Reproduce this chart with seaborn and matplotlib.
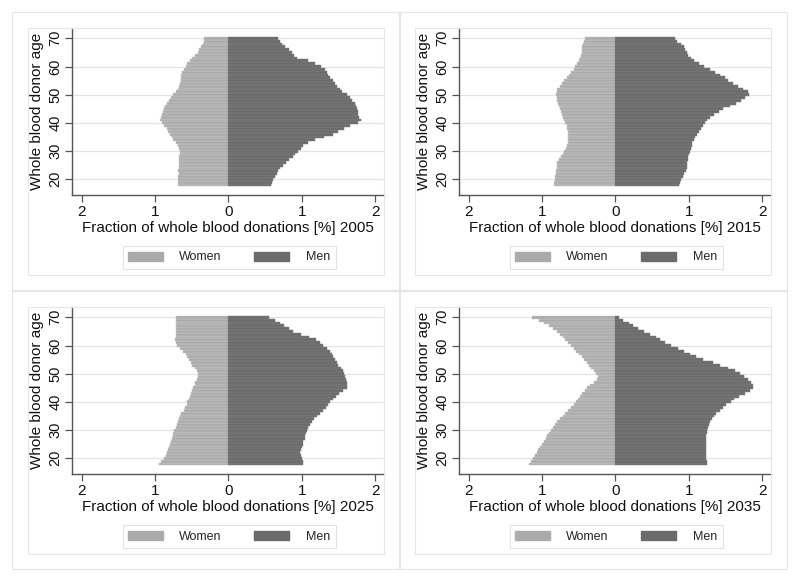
import numpy as np
import pandas as pd
import matplotlib
matplotlib.use("Agg")
import matplotlib.pyplot as plt
from matplotlib.patches import Rectangle, Patch
import seaborn as sns

# Donor ages shown on the y axis (one bar per age)
ages = list(range(18, 71))

years = ["2005", "2015", "2025", "2035"]

# Fraction of whole blood donations [%] by age (ages 18..70)
women_2005 = [0.68, 0.68, 0.68, 0.68, 0.67, 0.68, 0.67, 0.67, 0.67, 0.67, 0.67, 0.66, 0.66,
              0.67, 0.69, 0.72, 0.75, 0.77, 0.80, 0.82, 0.84, 0.87, 0.91, 0.93, 0.92, 0.91,
              0.89, 0.87, 0.86, 0.84, 0.81, 0.78, 0.75, 0.72, 0.69, 0.67, 0.66, 0.65, 0.65,
              0.64, 0.63, 0.61, 0.58, 0.56, 0.52, 0.49, 0.46, 0.42, 0.40, 0.37, 0.35, 0.33, 0.33]
men_2005 = [0.58, 0.59, 0.61, 0.64, 0.66, 0.68, 0.71, 0.75, 0.79, 0.83, 0.88, 0.91, 0.95,
            0.99, 1.02, 1.09, 1.18, 1.30, 1.42, 1.50, 1.58, 1.66, 1.76, 1.80, 1.78, 1.77,
            1.76, 1.75, 1.74, 1.72, 1.69, 1.66, 1.61, 1.55, 1.52, 1.48, 1.45, 1.43, 1.38,
            1.36, 1.35, 1.32, 1.26, 1.18, 1.08, 0.94, 0.90, 0.86, 0.82, 0.77, 0.73, 0.70, 0.68]

women_2015 = [0.83, 0.83, 0.82, 0.82, 0.81, 0.81, 0.80, 0.80, 0.79, 0.77, 0.74, 0.72, 0.70,
              0.67, 0.66, 0.65, 0.65, 0.65, 0.65, 0.65, 0.66, 0.66, 0.68, 0.70, 0.71, 0.73,
              0.74, 0.75, 0.77, 0.78, 0.80, 0.80, 0.81, 0.80, 0.79, 0.76, 0.73, 0.70, 0.66,
              0.63, 0.60, 0.57, 0.55, 0.52, 0.49, 0.48, 0.47, 0.46, 0.45, 0.45, 0.44, 0.43, 0.42]
men_2015 = [0.87, 0.88, 0.90, 0.92, 0.94, 0.96, 0.97, 0.97, 0.98, 0.99, 0.99, 1.00, 1.01,
            1.03, 1.04, 1.05, 1.07, 1.08, 1.11, 1.14, 1.17, 1.19, 1.22, 1.25, 1.29, 1.35,
            1.41, 1.47, 1.56, 1.64, 1.71, 1.77, 1.82, 1.80, 1.74, 1.67, 1.60, 1.54, 1.49,
            1.43, 1.36, 1.29, 1.21, 1.14, 1.07, 1.03, 0.99, 0.97, 0.95, 0.93, 0.90, 0.84, 0.81]

women_2025 = [0.94, 0.92, 0.88, 0.85, 0.83, 0.82, 0.81, 0.80, 0.78, 0.77, 0.76, 0.75, 0.74,
              0.72, 0.70, 0.68, 0.67, 0.66, 0.64, 0.61, 0.59, 0.57, 0.56, 0.54, 0.52, 0.51,
              0.49, 0.48, 0.46, 0.45, 0.43, 0.42, 0.41, 0.43, 0.46, 0.49, 0.51, 0.53, 0.56,
              0.58, 0.62, 0.66, 0.70, 0.72, 0.73, 0.72, 0.72, 0.72, 0.71, 0.71, 0.71, 0.71, 0.71]
men_2025 = [1.01, 1.01, 1.00, 0.99, 0.98, 0.99, 1.00, 1.01, 1.02, 1.04, 1.05, 1.06, 1.07,
            1.09, 1.11, 1.14, 1.17, 1.21, 1.25, 1.29, 1.33, 1.36, 1.39, 1.43, 1.46, 1.51,
            1.56, 1.62, 1.62, 1.61, 1.60, 1.59, 1.58, 1.56, 1.53, 1.50, 1.48, 1.45, 1.43,
            1.41, 1.39, 1.35, 1.29, 1.25, 1.19, 1.10, 0.99, 0.88, 0.82, 0.76, 0.70, 0.64, 0.56]

women_2035 = [1.18, 1.15, 1.12, 1.10, 1.07, 1.05, 1.02, 1.00, 0.97, 0.95, 0.93, 0.90, 0.88,
              0.85, 0.82, 0.79, 0.75, 0.72, 0.68, 0.64, 0.60, 0.57, 0.54, 0.51, 0.48, 0.45,
              0.42, 0.38, 0.34, 0.29, 0.25, 0.24, 0.26, 0.29, 0.33, 0.36, 0.39, 0.43, 0.46,
              0.49, 0.53, 0.57, 0.61, 0.65, 0.69, 0.72, 0.76, 0.79, 0.85, 0.90, 0.97, 1.04, 1.14]
men_2035 = [1.25, 1.25, 1.24, 1.24, 1.24, 1.24, 1.24, 1.24, 1.24, 1.24, 1.24, 1.25, 1.25,
            1.26, 1.27, 1.29, 1.31, 1.34, 1.37, 1.42, 1.47, 1.51, 1.57, 1.62, 1.68, 1.76,
            1.83, 1.88, 1.88, 1.85, 1.80, 1.75, 1.70, 1.63, 1.54, 1.43, 1.33, 1.20, 1.10,
            1.01, 0.93, 0.85, 0.76, 0.68, 0.61, 0.55, 0.47, 0.39, 0.31, 0.24, 0.18, 0.11, 0.05]

women_all = [women_2005, women_2015, women_2025, women_2035]
men_all = [men_2005, men_2015, men_2025, men_2035]

xticks = [-2, -1, 0, 1, 2]
xtick_labels = ["2", "1", "0", "1", "2"]
yticks = [20, 30, 40, 50, 60, 70]

WOMEN_COLOR = "#ababab"
MEN_COLOR = "#6b6b6b"
FRAME_COLOR = "#e6e6e6"

sns.set_theme(style="white")
plt.rcParams["font.family"] = ["Liberation Sans", "DejaVu Sans"]

W, H = 800, 582
fig = plt.figure(figsize=(W / 100, H / 100), dpi=100)
fig.patch.set_facecolor("white")


def px_rect(left, top, right, bottom):
    return [left / W, 1 - bottom / H, (right - left) / W, (bottom - top) / H]


def frame(left, top, right, bottom, color=FRAME_COLOR, lw=0.8):
    x, y, w, h = px_rect(left, top, right, bottom)
    fig.patches.append(Rectangle((x, y), w, h, transform=fig.transFigure,
                                 fill=False, edgecolor=color, linewidth=lw, zorder=0))


offsets = [(0, 0), (387, 0), (0, 279), (387, 279)]

for i, (dx, dy) in enumerate(offsets):
    # faint Stata-style graph region borders
    frame(12 + dx, 12 + dy, 400 + dx, 290 + dy)
    frame(28 + dx, 28 + dy, 384 + dx, 275 + dy)

    ax = fig.add_axes(px_rect(72 + dx, 28.3 + dy, 384 + dx, 195 + dy))
    df = pd.DataFrame({
        "age": ages * 2,
        "value": [-v for v in women_all[i]] + list(men_all[i]),
        "sex": ["Women"] * len(ages) + ["Men"] * len(ages),
    })
    for sex, col in [("Women", WOMEN_COLOR), ("Men", MEN_COLOR)]:
        sub = df[df["sex"] == sex]
        sns.barplot(data=sub, x="value", y="age", orient="y", native_scale=True,
                    color=col, width=1.0, errorbar=None, saturation=1,
                    edgecolor="#c8c8c8" if sex == "Women" else "#808080",
                    linewidth=0.35, ax=ax, zorder=2)

    ax.set_xlim(-2.13, 2.12)
    ax.set_ylim(14.43, 73.55)
    ax.set_xticks(xticks)
    ax.set_xticklabels(xtick_labels, fontsize=11, color="#111111")
    ax.set_yticks(yticks)
    ax.set_yticklabels([str(v) for v in yticks], rotation=90, va="center",
                       fontsize=10.5, color="#111111")
    ax.grid(axis="y", color="#e4e4e4", linewidth=0.9, zorder=0)
    ax.grid(axis="x", visible=False)
    ax.set_axisbelow(True)
    for side in ["top", "right"]:
        ax.spines[side].set_visible(False)
    for side in ["left", "bottom"]:
        ax.spines[side].set_color("#555555")
        ax.spines[side].set_linewidth(1.0)
    ax.tick_params(axis="both", which="major", direction="out", length=5, width=0.9,
                   color="#555555", left=True, bottom=True)
    ax.tick_params(axis="x", pad=2)
    ax.tick_params(axis="y", pad=2)
    ax.set_xlabel(f"Fraction of whole blood donations [%] {years[i]}", fontsize=11,
                  color="#111111", labelpad=2)
    ax.set_ylabel("Whole blood donor age", fontsize=11, color="#111111", labelpad=3)
    ax.set_facecolor("none")

    handles = [Patch(facecolor=WOMEN_COLOR, edgecolor=WOMEN_COLOR),
               Patch(facecolor=MEN_COLOR, edgecolor=MEN_COLOR)]
    cx, cy = 229 + dx, 257.5 + dy
    leg = fig.legend(handles, ["Women", "Men"], loc="center",
                     bbox_to_anchor=(cx / W, 1 - cy / H), ncol=2, fontsize=9,
                     frameon=True, fancybox=False, edgecolor="#dddddd",
                     handlelength=2.8, handleheight=0.72, handletextpad=1.3,
                     columnspacing=2.6, borderpad=0.45)
    leg.get_frame().set_linewidth(0.8)

fig.savefig("out.png", dpi=100, facecolor="white")
